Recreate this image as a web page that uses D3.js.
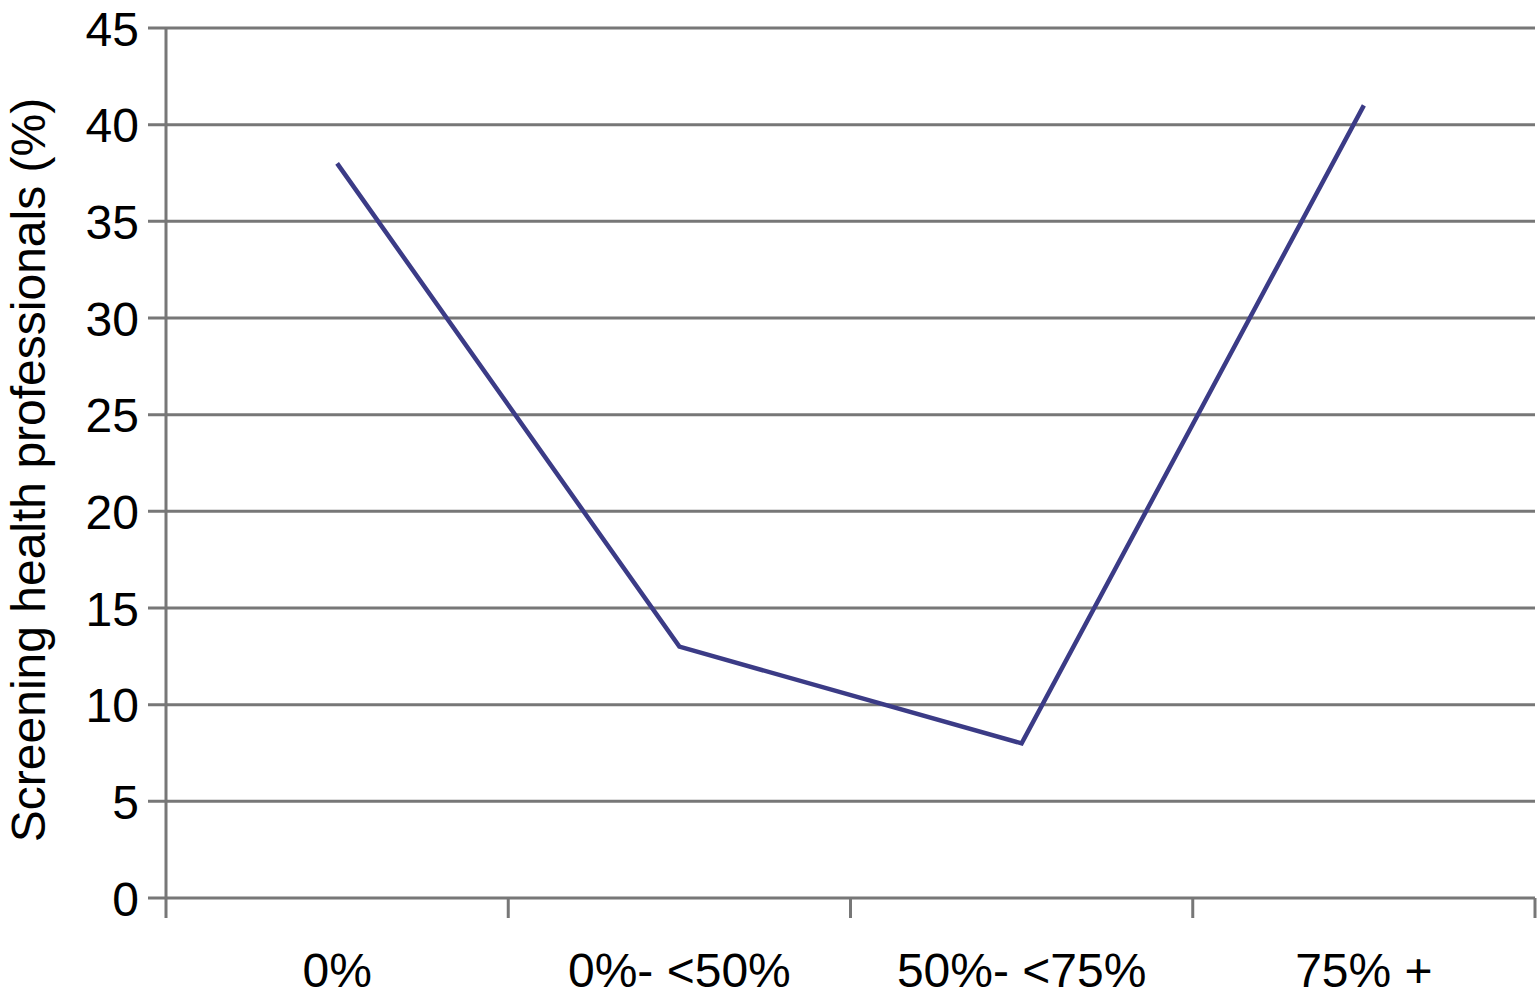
<!DOCTYPE html>
<html>
<head>
<meta charset="utf-8">
<script src="https://d3js.org/d3.v7.min.js"></script>
<style>
  body { margin: 0; background: #fff; }
  text { font-family: "Liberation Sans", Arial, sans-serif; fill: #000; }
</style>
</head>
<body>
<div id="chart"></div>
<script>
// Data
var categories = ['0%', '0%- <50%', '50%- <75%', '75% +'];
var values = [38, 13, 8, 41];
var yTicks = [0, 5, 10, 15, 20, 25, 30, 35, 40, 45];

// Dimensions
var width = 1538, height = 998;
var margin = { top: 28, right: 3, bottom: 100, left: 166 };
var innerW = width - margin.left - margin.right;
var innerH = height - margin.top - margin.bottom;

var svg = d3.select('#chart').append('svg')
  .attr('width', width)
  .attr('height', height);

var g = svg.append('g')
  .attr('transform', 'translate(' + margin.left + ',' + margin.top + ')');

// Scales
var x = d3.scaleBand().domain(categories).range([0, innerW]);
var y = d3.scaleLinear().domain([0, 45]).range([innerH, 0]);

// Gridlines
g.append('g')
  .selectAll('line')
  .data(yTicks)
  .enter().append('line')
  .attr('x1', -18)
  .attr('x2', innerW)
  .attr('y1', function (d) { return y(d); })
  .attr('y2', function (d) { return y(d); })
  .style('stroke', '#777')
  .style('stroke-width', 3);

// Y axis labels
var yAxis = d3.axisLeft(y).tickValues(yTicks).tickSize(0).tickPadding(27);
var ya = g.append('g').call(yAxis);
ya.select('.domain').remove();
ya.selectAll('text')
  .style('font-size', '48px')
  .attr('dy', '0.36em');

// Y axis line
g.append('line')
  .attr('x1', 0).attr('x2', 0)
  .attr('y1', 0).attr('y2', innerH + 20)
  .style('stroke', '#777')
  .style('stroke-width', 3);

// X boundary ticks
var bounds = categories.map(function (c) { return x(c); }).concat([innerW]);
g.append('g')
  .selectAll('line')
  .data(bounds.slice(1))
  .enter().append('line')
  .attr('x1', function (d) { return d; })
  .attr('x2', function (d) { return d; })
  .attr('y1', innerH)
  .attr('y2', innerH + 20)
  .style('stroke', '#777')
  .style('stroke-width', 3);

// X labels
var xAxis = d3.axisBottom(x).tickSize(0).tickPadding(55);
var xa = g.append('g')
  .attr('transform', 'translate(0,' + innerH + ')')
  .call(xAxis);
xa.select('.domain').remove();
xa.selectAll('text')
  .style('font-size', '48px');

// Y title
svg.append('text')
  .attr('transform', 'translate(45,' + (margin.top + 442) + ') rotate(-90)')
  .attr('text-anchor', 'middle')
  .style('font-size', '48px')
  .text('Screening health professionals (%)');

// Line
var line = d3.line()
  .x(function (d, i) { return x(categories[i]) + x.bandwidth() / 2; })
  .y(function (d) { return y(d); });

g.append('path')
  .datum(values)
  .attr('d', line)
  .style('fill', 'none')
  .style('stroke', '#3b3b86')
  .style('stroke-width', 4.5);
</script>
</body>
</html>
